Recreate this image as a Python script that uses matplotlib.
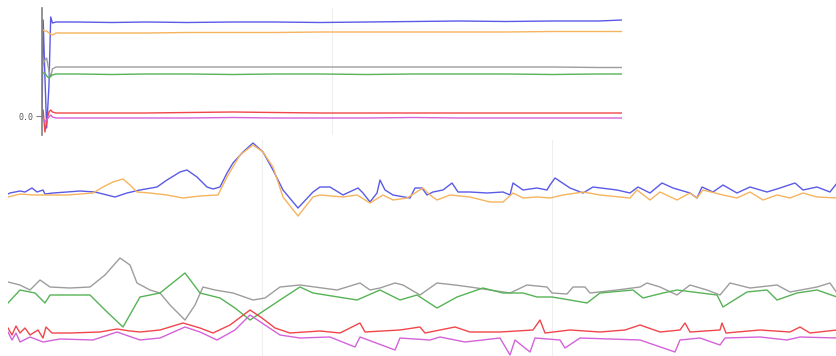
import numpy as np
import matplotlib.pyplot as plt

# Cores das seis séries
COLORS = {
    "blue": "#5a5ae8",
    "orange": "#f6b45e",
    "gray": "#9d9d9d",
    "green": "#56b356",
    "red": "#f0464a",
    "magenta": "#d462d8",
}

# --- Painel superior: série completa (passos 0..1000) ---
top_t = [0, 2, 5, 8, 12, 15, 18, 24, 60, 120, 180, 250, 330, 400, 480, 560,
         640, 720, 800, 880, 960, 1000]
top_blue = [-0.02, 0.96, 0.40, -0.12, 0.30, 0.99, 0.93, 0.94, 0.94, 0.935, 0.94,
            0.935, 0.94, 0.94, 0.935, 0.94, 0.945, 0.95, 0.945, 0.95, 0.95, 0.96]
top_orange = [0.86, 0.86, 0.85, 0.85, 0.83, 0.82, 0.81, 0.83, 0.83, 0.83, 0.83,
              0.835, 0.835, 0.835, 0.84, 0.84, 0.84, 0.84, 0.84, 0.845, 0.845, 0.845]
top_gray = [0.48, 0.52, 0.56, 0.58, 0.45, 0.39, 0.47, 0.49, 0.49, 0.49, 0.49,
            0.49, 0.49, 0.49, 0.49, 0.49, 0.49, 0.49, 0.49, 0.49, 0.485, 0.485]
top_green = [0.43, 0.43, 0.43, 0.40, 0.38, 0.40, 0.41, 0.42, 0.42, 0.415, 0.42,
             0.42, 0.415, 0.42, 0.42, 0.415, 0.42, 0.42, 0.42, 0.415, 0.42, 0.42]
top_red = [0.02, 0.06, -0.16, -0.05, 0.04, 0.06, 0.04, 0.03, 0.03, 0.03, 0.03,
           0.035, 0.04, 0.035, 0.03, 0.03, 0.03, 0.03, 0.03, 0.03, 0.03, 0.03]
top_magenta = [-0.01, -0.03, -0.06, -0.04, -0.01, 0.01, -0.01, -0.02, -0.02, -0.02,
               -0.02, -0.02, -0.015, -0.02, -0.02, -0.02, -0.015, -0.02, -0.02,
               -0.02, -0.02, -0.02]

# --- Painel inferior: janela ampliada ---
blue_t = [0, 2, 12, 17, 24, 29, 35, 37, 45, 59, 72, 87, 99, 107, 119, 132, 149,
          159, 172, 179, 189, 199, 205, 212, 219, 225, 235, 245, 255, 265, 275,
          290, 305, 312, 322, 335, 350, 355, 362, 369, 372, 377, 385, 402, 407,
          414, 419, 425, 435, 444, 450, 462, 479, 495, 502, 505, 515, 529, 539,
          542, 547, 562, 575, 585, 609, 622, 630, 642, 654, 665, 682, 689, 694,
          705, 715, 729, 742, 759, 772, 787, 795, 809, 822, 829]
blue_v = [1.62, 1.63, 1.65, 1.64, 1.68, 1.64, 1.66, 1.62, 1.63, 1.64, 1.65, 1.64,
          1.61, 1.59, 1.63, 1.66, 1.69, 1.76, 1.84, 1.86, 1.79, 1.69, 1.67, 1.69,
          1.83, 1.93, 2.04, 2.13, 2.04, 1.86, 1.66, 1.48, 1.64, 1.69, 1.69, 1.61,
          1.68, 1.63, 1.54, 1.63, 1.76, 1.66, 1.61, 1.58, 1.68, 1.68, 1.61, 1.64,
          1.66, 1.73, 1.64, 1.64, 1.63, 1.64, 1.61, 1.73, 1.66, 1.68, 1.66, 1.71,
          1.78, 1.68, 1.63, 1.69, 1.66, 1.63, 1.69, 1.63, 1.73, 1.68, 1.63, 1.58,
          1.69, 1.64, 1.71, 1.63, 1.69, 1.64, 1.68, 1.73, 1.66, 1.69, 1.64, 1.73]

orange_t = [0, 12, 25, 42, 59, 85, 95, 105, 115, 122, 129, 142, 159, 175, 192,
            210, 219, 232, 245, 255, 265, 275, 290, 305, 312, 335, 349, 362, 375,
            385, 399, 415, 422, 429, 442, 462, 482, 495, 505, 515, 529, 542, 555,
            575, 592, 622, 629, 642, 652, 669, 682, 689, 695, 715, 729, 742, 755,
            769, 782, 795, 809, 829]
orange_v = [1.59, 1.62, 1.61, 1.61, 1.61, 1.63, 1.69, 1.74, 1.77, 1.71, 1.64,
            1.63, 1.61, 1.58, 1.60, 1.61, 1.79, 2.01, 2.11, 2.04, 1.89, 1.59, 1.40,
            1.59, 1.61, 1.59, 1.61, 1.53, 1.61, 1.56, 1.58, 1.68, 1.61, 1.56, 1.61,
            1.59, 1.54, 1.54, 1.63, 1.58, 1.59, 1.58, 1.61, 1.64, 1.61, 1.58, 1.66,
            1.56, 1.64, 1.56, 1.63, 1.58, 1.66, 1.61, 1.58, 1.64, 1.56, 1.61, 1.58,
            1.63, 1.59, 1.58]

gray_t = [0, 12, 22, 32, 42, 62, 82, 97, 112, 122, 129, 142, 152, 162, 177, 187,
          195, 207, 225, 245, 257, 272, 292, 329, 352, 362, 372, 387, 395, 412,
          429, 447, 462, 482, 502, 519, 539, 544, 559, 565, 577, 582, 609, 632,
          639, 652, 669, 682, 699, 712, 722, 742, 769, 782, 809, 822, 829]
gray_v = [0.74, 0.71, 0.66, 0.76, 0.69, 0.68, 0.69, 0.81, 0.98, 0.91, 0.73, 0.66,
          0.63, 0.51, 0.36, 0.51, 0.69, 0.66, 0.63, 0.56, 0.58, 0.69, 0.71, 0.66,
          0.73, 0.66, 0.68, 0.73, 0.71, 0.61, 0.73, 0.71, 0.69, 0.66, 0.63, 0.71,
          0.69, 0.63, 0.62, 0.69, 0.69, 0.63, 0.66, 0.69, 0.73, 0.69, 0.61, 0.71,
          0.66, 0.61, 0.73, 0.68, 0.71, 0.64, 0.69, 0.73, 0.63]

green_t = [0, 12, 27, 37, 42, 82, 97, 115, 132, 152, 177, 192, 212, 227, 242,
           257, 272, 292, 305, 349, 372, 392, 409, 429, 449, 475, 495, 515, 529,
           544, 562, 579, 592, 625, 635, 655, 669, 709, 715, 739, 759, 769, 789,
           809, 829]
green_v = [0.53, 0.66, 0.63, 0.53, 0.61, 0.61, 0.46, 0.29, 0.59, 0.63, 0.83,
           0.63, 0.58, 0.48, 0.36, 0.46, 0.56, 0.69, 0.63, 0.56, 0.66, 0.56, 0.61,
           0.48, 0.59, 0.68, 0.63, 0.63, 0.59, 0.59, 0.56, 0.53, 0.63, 0.66, 0.58,
           0.63, 0.66, 0.61, 0.49, 0.64, 0.66, 0.56, 0.63, 0.66, 0.59]

red_t = [0, 4, 8, 12, 17, 22, 30, 35, 38, 44, 62, 92, 109, 122, 132, 152, 175,
         192, 205, 222, 242, 254, 267, 282, 312, 332, 352, 357, 392, 412, 417,
         432, 447, 462, 492, 525, 532, 537, 562, 592, 617, 632, 652, 672, 677,
         682, 712, 714, 718, 752, 782, 792, 802, 829]
red_v = [0.28, 0.21, 0.30, 0.23, 0.28, 0.21, 0.26, 0.18, 0.29, 0.23, 0.23, 0.24,
         0.27, 0.25, 0.24, 0.26, 0.33, 0.28, 0.23, 0.31, 0.46, 0.38, 0.28, 0.23,
         0.25, 0.23, 0.33, 0.24, 0.26, 0.29, 0.23, 0.26, 0.29, 0.24, 0.24, 0.26,
         0.36, 0.23, 0.26, 0.24, 0.26, 0.31, 0.24, 0.26, 0.33, 0.24, 0.26, 0.33,
         0.23, 0.26, 0.24, 0.29, 0.23, 0.26]

magenta_t = [0, 4, 8, 12, 22, 35, 52, 85, 109, 132, 152, 177, 192, 209, 227,
             242, 257, 272, 292, 322, 347, 352, 387, 392, 422, 432, 457, 492, 502,
             507, 522, 527, 552, 557, 572, 632, 667, 672, 692, 712, 717, 752, 779,
             792, 829]
magenta_v = [0.24, 0.16, 0.23, 0.14, 0.19, 0.14, 0.17, 0.16, 0.24, 0.16, 0.18,
             0.29, 0.24, 0.16, 0.26, 0.41, 0.31, 0.21, 0.18, 0.19, 0.09, 0.19,
             0.06, 0.18, 0.16, 0.19, 0.14, 0.18, 0.01, 0.16, 0.04, 0.18, 0.16,
             0.08, 0.18, 0.16, 0.04, 0.16, 0.18, 0.11, 0.18, 0.19, 0.16, 0.19,
             0.18]

W, H = 837, 356
fig = plt.figure(figsize=(W / 100, H / 100), dpi=100)

# painel superior com eixo y à esquerda
ax_top = fig.add_axes([42 / W, 1 - 135 / H, 580 / W, 127 / H])
ax_top.patch.set_alpha(0)
for key, vals in [("blue", top_blue), ("orange", top_orange), ("gray", top_gray),
                  ("green", top_green), ("red", top_red), ("magenta", top_magenta)]:
    ax_top.plot(top_t, vals, color=COLORS[key], lw=1.0)
ax_top.set_xlim(0, 1000)
ax_top.set_ylim(-0.19, 1.08)
for side in ["top", "right", "bottom"]:
    ax_top.spines[side].set_visible(False)
ax_top.spines["left"].set_color("#808080")
ax_top.spines["left"].set_linewidth(1.2)
ax_top.set_yticks([0.0])
ax_top.set_yticklabels(["0.0"], fontsize=6, family="DejaVu Sans Mono", color="#555555")
ax_top.tick_params(axis="y", length=4, width=0.8, color="#808080", pad=2)
ax_top.set_xticks([500, 1000])
ax_top.tick_params(axis="x", length=0, labelbottom=False)
ax_top.grid(axis="x", color="#eeeeee", lw=0.8)
ax_top.set_axisbelow(True)

# painel inferior ampliado, sem eixos
ax_bot = fig.add_axes([8 / W, 0, 829 / W, 216 / H])
ax_bot.patch.set_alpha(0)
ax_bot.plot(blue_t, blue_v, color=COLORS["blue"], lw=1.0)
ax_bot.plot(orange_t, orange_v, color=COLORS["orange"], lw=1.0)
ax_bot.plot(gray_t, gray_v, color=COLORS["gray"], lw=1.0)
ax_bot.plot(green_t, green_v, color=COLORS["green"], lw=1.0)
ax_bot.plot(red_t, red_v, color=COLORS["red"], lw=1.0)
ax_bot.plot(magenta_t, magenta_v, color=COLORS["magenta"], lw=1.0)
ax_bot.set_xlim(0, 829)
ax_bot.set_ylim(0, 2.16)
for s in ax_bot.spines.values():
    s.set_visible(False)
ax_bot.set_xticks([254, 544])
ax_bot.set_yticks([])
ax_bot.tick_params(axis="x", length=0, labelbottom=False)
ax_bot.grid(axis="x", color="#efefef", lw=0.8)
ax_bot.set_axisbelow(True)

fig.savefig("out.png", dpi=100)
